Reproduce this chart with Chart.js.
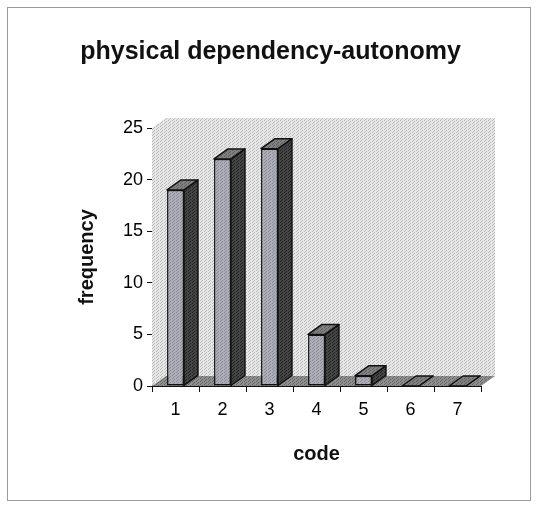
<!DOCTYPE html>
<html lang="en">
<head>
<meta charset="UTF-8">
<title>physical dependency-autonomy</title>
<script src="https://cdn.jsdelivr.net/npm/chart.js"></script>
<style>
  body { margin: 0; background: #fff; }
</style>
</head>
<body>
<canvas id="grafico" width="540" height="510"></canvas>
<script>
  // data
  const codes = ['1', '2', '3', '4', '5', '6', '7'];
  const frequency = [19, 22, 23, 5, 1, 0, 0];
  const yTicks = [0, 5, 10, 15, 20, 25];

  const fonte = "Arial, 'Liberation Sans', sans-serif";
  const DX = 14, DY = -10; // 3d depth

  function pontilhado(base, ponto) {
    const c = document.createElement('canvas');
    c.width = 4; c.height = 3;
    const g = c.getContext('2d');
    g.fillStyle = base; g.fillRect(0, 0, 4, 3);
    g.fillStyle = ponto;
    g.fillRect(0, 0, 1, 1); g.fillRect(2, 1, 1, 1); g.fillRect(1, 2, 1, 1);
    return g.createPattern(c, 'repeat');
  }

  const efeito3d = {
    id: 'efeito3d',
    beforeDraw(chart) {
      const ctx = chart.ctx;
      ctx.save();
      ctx.strokeStyle = '#9a9a9a';
      ctx.lineWidth = 1;
      ctx.strokeRect(7.5, 7.5, 523, 493);
      ctx.restore();
    },
    beforeDatasetsDraw(chart) {
      const ctx = chart.ctx;
      const a = chart.chartArea;
      ctx.save();
      // side wall + back wall
      ctx.fillStyle = pontilhado('#e6e6e6', '#bababa');
      ctx.beginPath();
      ctx.moveTo(a.left, a.bottom);
      ctx.lineTo(a.left + DX, a.bottom + DY);
      ctx.lineTo(a.right + DX, a.bottom + DY);
      ctx.lineTo(a.right + DX, a.top + DY);
      ctx.lineTo(a.left + DX, a.top + DY);
      ctx.lineTo(a.left, a.top);
      ctx.closePath();
      ctx.fill();
      // floor
      ctx.fillStyle = pontilhado('#8e8e8e', '#666');
      ctx.beginPath();
      ctx.moveTo(a.left, a.bottom);
      ctx.lineTo(a.right, a.bottom);
      ctx.lineTo(a.right + DX, a.bottom + DY);
      ctx.lineTo(a.left + DX, a.bottom + DY);
      ctx.closePath();
      ctx.fill();
      ctx.restore();
    },
    afterDatasetsDraw(chart) {
      const ctx = chart.ctx;
      const meta = chart.getDatasetMeta(0);
      ctx.save();
      ctx.lineWidth = 1.5;
      ctx.strokeStyle = '#111';
      ctx.lineJoin = 'round';
      meta.data.forEach(function (bar) {
        const p = bar.getProps(['x', 'y', 'base', 'width'], true);
        const l = p.x - p.width / 2, r = p.x + p.width / 2;
        // side
        ctx.fillStyle = pontilhado('#444', '#222');
        ctx.beginPath();
        ctx.moveTo(r, p.base);
        ctx.lineTo(r + DX, p.base + DY);
        ctx.lineTo(r + DX, p.y + DY);
        ctx.lineTo(r, p.y);
        ctx.closePath();
        ctx.fill(); ctx.stroke();
        // top
        ctx.fillStyle = pontilhado('#808080', '#5e5e5e');
        ctx.beginPath();
        ctx.moveTo(l, p.y);
        ctx.lineTo(r, p.y);
        ctx.lineTo(r + DX, p.y + DY);
        ctx.lineTo(l + DX, p.y + DY);
        ctx.closePath();
        ctx.fill(); ctx.stroke();
      });
      ctx.restore();
    }
  };

  const ctx = document.getElementById('grafico');
  new Chart(ctx, {
    type: 'bar',
    data: {
      labels: codes,
      datasets: [{
        label: 'frequency',
        data: frequency,
        backgroundColor: pontilhado('#adadb8', '#8c8c96'),
        borderColor: '#111',
        borderWidth: 1.5,
        borderSkipped: false,
        barPercentage: 0.36,
        categoryPercentage: 1
      }]
    },
    options: {
      responsive: false,
      animation: false,
      devicePixelRatio: 1,
      layout: { padding: { left: 60, right: 59, top: 8, bottom: 30 } },
      plugins: {
        legend: { display: false },
        tooltip: { enabled: false },
        title: {
          display: true,
          text: 'physical dependency-autonomy',
          color: '#111',
          font: { family: fonte, size: 25, weight: 'bold' },
          padding: { top: 29, bottom: 61 }
        }
      },
      scales: {
        x: {
          afterFit(axis) { axis.height = 94; },
          grid: { drawOnChartArea: false, tickLength: 6, color: '#111' },
          border: { display: true, color: '#111', width: 1 },
          ticks: { color: '#000', font: { family: fonte, size: 18 }, padding: 7 },
          title: {
            display: true, text: 'code', color: '#111',
            font: { family: fonte, size: 20, weight: 'bold' },
            padding: { top: 0, bottom: 14 }
          }
        },
        y: {
          min: 0, max: 25,
          afterFit(axis) { axis.width = 92; },
          afterBuildTicks(axis) { axis.ticks = yTicks.map(v => ({ value: v })); },
          grid: { drawOnChartArea: false, tickLength: 5, color: '#111' },
          border: { display: true, color: '#111', width: 1 },
          ticks: { color: '#000', font: { family: fonte, size: 18 }, padding: 4 },
          title: {
            display: true, text: 'frequency', color: '#111',
            font: { family: fonte, size: 20, weight: 'bold' },
            padding: { top: 15, bottom: 0 }
          }
        }
      }
    },
    plugins: [efeito3d]
  });
</script>
</body>
</html>
